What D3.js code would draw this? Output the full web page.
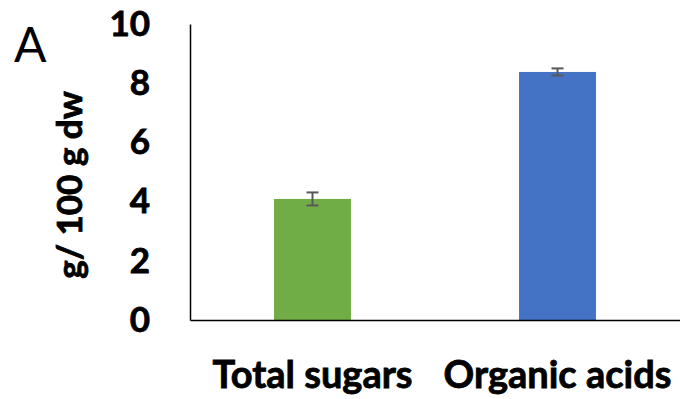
<!DOCTYPE html>
<html><head><meta charset="utf-8">
<script src="https://cdn.jsdelivr.net/npm/d3@7"></script>
<style>body{margin:0;background:#fff}svg{display:block}</style>
</head><body>
<script>
const categories = ["Total sugars", "Organic acids"];
const values = [4.09, 8.38];
const errors = [0.22, 0.12];
const colors = ["#70AD47", "#4472C4"];
const yTicks = [0, 2, 4, 6, 8, 10];

const W = 680, H = 399;
const m = {left: 190, right: 0, top: 24, bottom: 79};
const svg = d3.select("body").append("svg").attr("width", W).attr("height", H);
const font = "Lato, 'Open Sans', sans-serif";

const x = d3.scaleBand().domain(categories).range([m.left, W - m.right]).paddingInner(0.686).paddingOuter(0.343);
const y = d3.scaleLinear().domain([0, 10]).range([H - m.bottom, m.top]);

svg.selectAll("rect.bar").data(categories).enter().append("rect")
  .attr("x", d => x(d)).attr("width", x.bandwidth())
  .attr("y", (d, i) => y(values[i])).attr("height", (d, i) => y(0) - y(values[i]))
  .attr("fill", (d, i) => colors[i]);

// error bars
const eg = svg.append("g").attr("stroke", "#595959").attr("stroke-width", 2);
categories.forEach((c, i) => {
  const cx = x(c) + x.bandwidth() / 2;
  eg.append("line").attr("x1", cx).attr("x2", cx).attr("y1", y(values[i] + errors[i])).attr("y2", y(values[i] - errors[i]));
  eg.append("line").attr("x1", cx - 6).attr("x2", cx + 6).attr("y1", y(values[i] + errors[i])).attr("y2", y(values[i] + errors[i]));
  eg.append("line").attr("x1", cx - 6).attr("x2", cx + 6).attr("y1", y(values[i] - errors[i])).attr("y2", y(values[i] - errors[i]));
});

function heavy(sel) {
  sel.attr("font-family", font).attr("font-weight", "bold").attr("fill", "#000")
     .attr("stroke", "#000").attr("stroke-width", 0.8).attr("paint-order", "stroke");
}

// y axis
const ya = svg.append("g").attr("transform", `translate(${m.left},0)`)
  .call(d3.axisLeft(y).tickValues(yTicks).tickSize(0).tickPadding(40).tickFormat(d3.format("d")));
ya.select(".domain").attr("stroke", "#000").attr("stroke-width", 1.5);
ya.selectAll("text").call(heavy).attr("font-size", 35);

// x axis
const xa = svg.append("g").attr("transform", `translate(0,${H - m.bottom})`)
  .call(d3.axisBottom(x).tickSize(0).tickPadding(41));
xa.select(".domain").attr("stroke", "#000").attr("stroke-width", 1.5);
xa.selectAll("text").call(heavy).attr("font-size", 38);

// y title
svg.append("text").attr("transform", "translate(68,185) rotate(-90)")
  .attr("text-anchor", "middle").attr("dominant-baseline", "central")
  .call(heavy).attr("font-size", 35)
  .text("g/ 100 g dw");

svg.append("text").attr("x", 14).attr("y", 62)
  .attr("font-family", font).attr("font-size", 48).text("A");
</script>
</body></html>
